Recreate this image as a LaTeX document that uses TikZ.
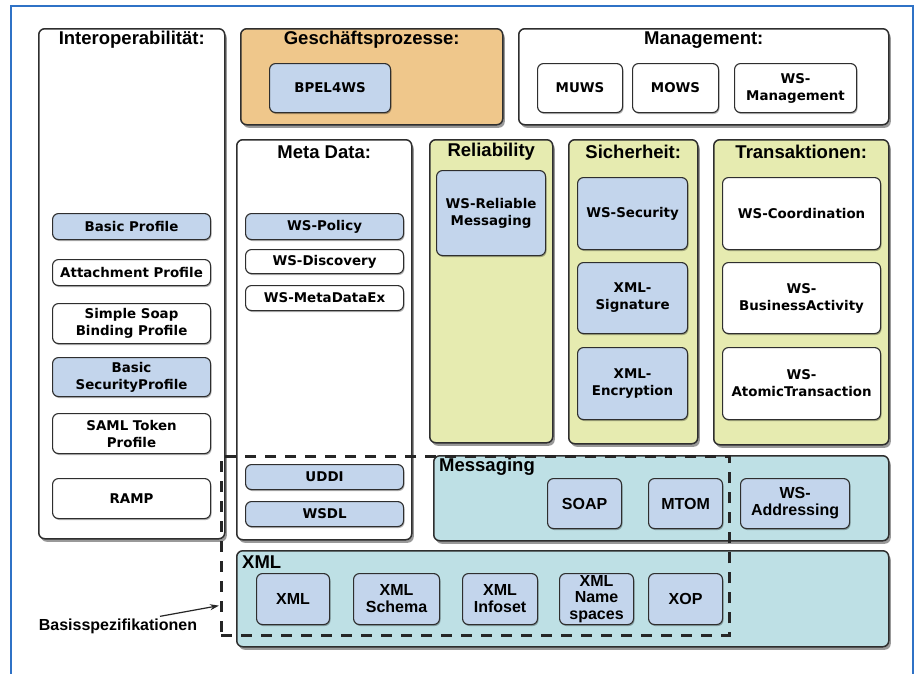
\documentclass[tikz,border=0pt]{standalone}
\usepackage{fontspec}
\setmainfont{Liberation Sans}
\newfontfamily\lucidafont{DejaVu Sans}
\usetikzlibrary{shadows,arrows.meta}

\definecolor{frameblue}{HTML}{2F72C6}
\definecolor{itemblue}{HTML}{C3D5EC}
\definecolor{orangefill}{HTML}{EFC78B}
\definecolor{limefill}{HTML}{E6EBB0}
\definecolor{tealfill}{HTML}{BEE0E5}
\definecolor{edgegray}{HTML}{2E2E2E}

% \wsbox{style}{name}{x1}{y1}{x2}{y2}{text}: box spanning the given corners
\newcommand\wsbox[7]{%
  \node[#1, anchor=north west, minimum width={#5-#3}, minimum height={#6-#4}] (#2) at (#3,#4) {#7};}

\begin{document}
\begin{tikzpicture}[x=1pt,y=-1pt,
  container/.style={draw=edgegray, line width=1.5pt, rounded corners=6pt, inner sep=0pt,
    drop shadow={shadow xshift=2pt, shadow yshift=-3pt, opacity=0.4, fill=black}},
  item/.style={draw=edgegray, line width=1.1pt, rounded corners=6pt, inner sep=1pt, align=center,
    drop shadow={shadow xshift=1pt, shadow yshift=-1.5pt, opacity=0.3, fill=black}},
  lucida/.style={item, font=\lucidafont\bfseries\fontsize{13.4}{17}\selectfont},
  helv/.style={item, font=\bfseries\fontsize{16}{17}\selectfont},
  blue/.style={fill=itemblue},
  white/.style={fill=white},
  title/.style={font=\bfseries\fontsize{18.5}{20}\selectfont, inner sep=0pt},
  basisline/.style={draw=black!85, line width=2.6pt, dash pattern=on 11pt off 9pt},
]
\useasboundingbox (0,0) rectangle (917,673);
\clip (0,0) rectangle (917,673);

% outer frame
\draw[frameblue, line width=1.6pt] (11,700) -- (11,6) -- (913,6) -- (913,700);

% containers
\wsbox{container, fill=white}{interop}{38}{28}{224}{538}{}
\wsbox{container, fill=orangefill}{gp}{240}{28}{502}{124}{}
\wsbox{container, fill=white}{mgmt}{518}{28}{888}{124}{}
\wsbox{container, fill=white}{meta}{236}{139}{411}{539}{}
\wsbox{container, fill=limefill}{rel}{429}{139}{552}{442}{}
\wsbox{container, fill=limefill}{sich}{568}{139}{697}{443}{}
\wsbox{container, fill=limefill}{trans}{713}{139}{888}{444}{}
\wsbox{container, fill=tealfill}{msg}{433}{455}{888}{540}{}
\wsbox{container, fill=tealfill}{xmlbox}{236}{550}{888}{646}{}

% container titles
\node[title] at ([yshift=-12pt]interop.north) {Interoperabilität:};
\node[title] at ([yshift=-12pt]gp.north) {Geschäftsprozesse:};
\node[title] at ([yshift=-12pt]mgmt.north) {Management:};
\node[title] at ([yshift=-13pt]meta.north) {Meta Data:};
\node[title] at ([yshift=-13pt]rel.north) {Reliability};
\node[title] at ([yshift=-13pt]sich.north) {Sicherheit:};
\node[title] at ([yshift=-13pt]trans.north) {Transaktionen:};
\node[title, anchor=west] at ([xshift=6pt,yshift=-12pt]msg.north west) {Messaging};
\node[title, anchor=west] at ([xshift=6pt,yshift=-12pt]xmlbox.north west) {XML};

% business processes and management
\wsbox{lucida, blue}{bpel}{269}{63}{390}{112}{BPEL4WS}
\wsbox{lucida, white}{muws}{537}{63}{622}{112}{MUWS}
\wsbox{lucida, white}{mows}{632}{63}{718}{112}{MOWS}
\wsbox{lucida, white}{wsman}{734}{63}{856}{112}{WS-\\Management}

% interoperability profiles
\wsbox{lucida, blue}{bp}{52}{213}{210}{239}{Basic Profile}
\wsbox{lucida, white}{ap}{52}{259}{210}{285}{Attachment Profile}
\wsbox{lucida, white}{ssbp}{52}{303}{210}{343}{Simple Soap\\Binding Profile}
\wsbox{lucida, blue}{bsp}{52}{357}{210}{396}{Basic\\SecurityProfile}
\wsbox{lucida, white}{saml}{52}{413}{210}{453}{SAML Token\\Profile}
\wsbox{lucida, white}{ramp}{52}{478}{210}{518}{RAMP}

% meta data
\wsbox{lucida, blue}{policy}{245}{213}{403}{239}{WS-Policy}
\wsbox{lucida, white}{disc}{245}{249}{403}{273}{WS-Discovery}
\wsbox{lucida, white}{mex}{245}{285}{403}{310}{WS-MetaDataEx}
\wsbox{lucida, blue}{uddi}{245}{464}{403}{489}{UDDI}
\wsbox{lucida, blue}{wsdl}{245}{501}{403}{526}{WSDL}

% reliability, security, transactions
\wsbox{lucida, blue}{wsrm}{436}{170}{545}{255}{WS-Reliable\\Messaging}
\wsbox{lucida, blue}{wssec}{577}{177}{687}{249}{WS-Security}
\wsbox{lucida, blue}{xmlsig}{577}{262}{687}{333}{XML-\\Signature}
\wsbox{lucida, blue}{xmlenc}{577}{347}{687}{419}{XML-\\Encryption}
\wsbox{lucida, white}{wscoord}{722}{177}{880}{249}{WS-Coordination}
\wsbox{lucida, white}{wsba}{722}{262}{880}{333}{WS-\\BusinessActivity}
\wsbox{lucida, white}{wsat}{722}{347}{880}{419}{WS-\\AtomicTransaction}

% messaging
\wsbox{helv, blue}{soap}{547}{478}{621}{528}{SOAP}
\wsbox{helv, blue}{mtom}{648}{478}{722}{528}{MTOM}
\wsbox{helv, blue}{wsaddr}{740}{478}{849}{528}{WS-\\Addressing}

% XML
\wsbox{helv, blue}{xml}{256}{573}{329}{624}{XML}
\wsbox{helv, blue}{schema}{353}{573}{439}{624}{XML\\Schema}
\wsbox{helv, blue}{infoset}{462}{573}{537}{624}{XML\\Infoset}
\wsbox{helv, blue, font=\bfseries\fontsize{16}{16.5}\selectfont}{ns}{559}{573}{633}{624}{XML\\Name\\spaces}
\wsbox{helv, blue}{xop}{648}{573}{722}{624}{XOP}

% base specifications region
\wsbox{basisline, inner sep=0pt}{basisregion}{220}{455}{728}{634}{}
\node[font=\bfseries\fontsize{16}{18}\selectfont, inner sep=0pt] (basis) at (118,626) {Basisspezifikationen};
\coordinate (basistip) at ([yshift=31pt]basisregion.south west);
\draw[black!85, line width=1.2pt, -{Stealth[length=9pt,width=6pt]}]
  ([xshift=42pt,yshift=2pt]basis.north) -- ([xshift=-1pt]basistip);
\end{tikzpicture}
\end{document}
